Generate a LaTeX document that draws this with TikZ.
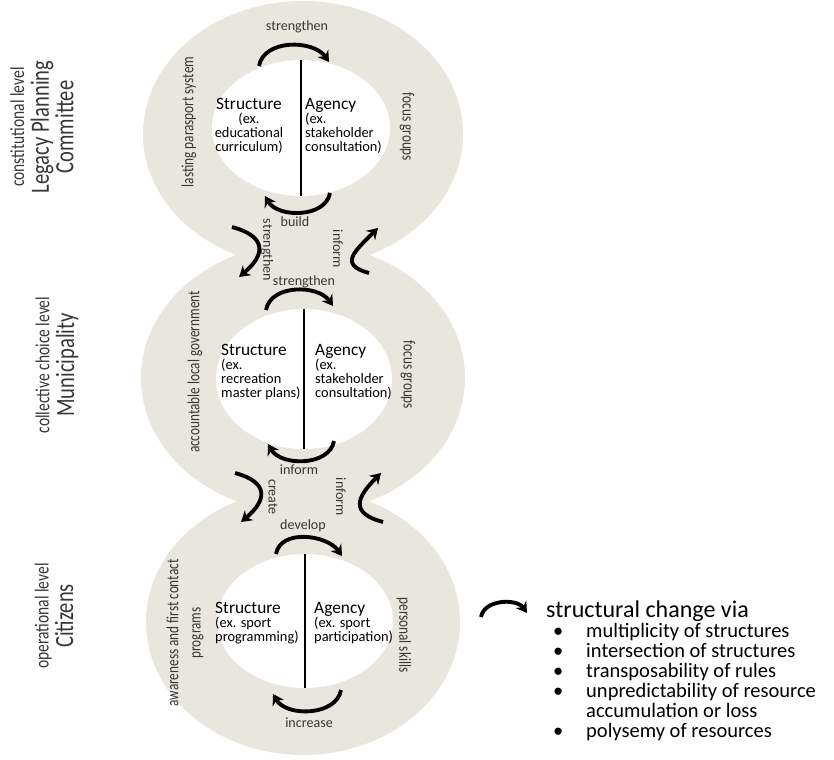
\documentclass[tikz,border=0pt]{standalone}
\usepackage{fontspec}
\setmainfont{Carlito}
\newfontfamily\narrowfont[FakeStretch=0.78]{Carlito}
\usetikzlibrary{arrows.meta,shapes.geometric}
\definecolor{ringgray}{RGB}{232,230,222}
\definecolor{labelgray}{RGB}{55,55,55}
\tikzset{
  ring/.style={fill=ringgray},
  core/.style={ellipse,fill=white,inner sep=0pt,minimum width=52.8mm},
  divider/.style={line width=2.4pt},
  flow/.style={line width=3.3pt,-{Stealth[length=9pt,width=11pt]}},
  cue/.style={font=\fontsize{12}{14}\selectfont,text=labelgray,inner sep=1pt},
  side/.style={font=\narrowfont\fontsize{14.5}{19}\selectfont,text=labelgray,align=center,inner sep=0pt},
  level/.style={font=\narrowfont\fontsize{22.5}{21}\selectfont,text=labelgray,align=center,inner sep=0pt},
  block/.style={font=\fontsize{12.3}{12}\selectfont,inner sep=0pt},
  listing/.style={font=\fontsize{17.5}{17}\selectfont,align=left,inner sep=0pt}
}
\newcommand{\headword}[1]{{\fontsize{14.8}{12}\selectfont #1}}
\newcommand{\levelname}[1]{{\fontsize{17}{21}\selectfont #1}}
\begin{document}
\begin{tikzpicture}[x=0.3mm,y=0.3mm]
\useasboundingbox (0,0) rectangle (834,-760);

% the three rings
\fill[ring] (303,-134) ellipse[x radius=160,y radius=133];
\fill[ring] (303,-378) ellipse[x radius=162,y radius=135];
\fill[ring] (303,-622) ellipse[x radius=157,y radius=133];

\node[core,minimum width=53.4mm,minimum height=40.8mm] (topcore) at (301,-128) {};
\node[core,minimum height=42mm] (midcore) at (304,-379) {};
\node[core,minimum height=40.2mm] (botcore) at (305,-621) {};

\draw[divider] (topcore.north) -- (topcore.south);
\draw[divider] (midcore.north) -- (midcore.south);
\draw[divider] (botcore.north) -- (botcore.south);

% structure and agency
\node[block,align=center] (topstruct) at (249,-126) {\headword{Structure}\\(ex.\\educational\\curriculum)};
\node[block,align=left,anchor=west] (topagency) at (305,-126) {\headword{Agency}\\(ex.\\stakeholder\\consultation)};
\node[block,align=left,anchor=west] (midstruct) at (221,-372) {\headword{Structure}\\(ex.\\recreation\\master plans)};
\node[block,align=left,anchor=west] (midagency) at (315,-372) {\headword{Agency}\\(ex.\\stakeholder\\consultation)};
\node[block,align=left,anchor=west] (botstruct) at (215,-623) {\headword{Structure}\\(ex. sport\\programming)};
\node[block,align=left,anchor=west] (botagency) at (314,-623) {\headword{Agency}\\(ex. sport\\participation)};

% cycle arrows
\draw[flow] (259,-66) to[out=80,in=125] (329,-62);
\draw[flow] (330,-193) to[out=-100,in=-60] (265,-196);
\draw[flow] (232,-227) to[out=-15,in=40,looseness=1.8] (239,-277);
\draw[flow] (369,-273) to[out=165,in=-135,looseness=1.8] (378,-228);
\draw[flow] (266,-310) to[out=80,in=125] (333,-306);
\draw[flow] (334,-441) to[out=-100,in=-60] (268,-444);
\draw[flow] (235,-473) to[out=-15,in=40,looseness=1.8] (241,-522);
\draw[flow] (383,-522) to[out=165,in=-135,looseness=1.8] (381,-473);
\draw[flow] (276,-554) to[out=80,in=125] (342,-556);
\draw[flow] (341,-690) to[out=-100,in=-60] (273,-694);

\node[cue] (topup) at (297,-27) {strengthen};
\node[cue] (topdown) at (295,-222) {build};
\node[cue,rotate=-90] (neckAl) at (267,-250) {strengthen};
\node[cue,rotate=-90] (neckAr) at (338,-249) {inform};
\node[cue] (midup) at (304,-282) {strengthen};
\node[cue] (middown) at (299,-470) {inform};
\node[cue,rotate=-90] (neckBl) at (273,-497) {create};
\node[cue,rotate=-90] (neckBr) at (341,-497) {inform};
\node[cue] (botup) at (303,-526) {develop};
\node[cue] (botdown) at (309,-723) {increase};

% ring side labels
\node[side,rotate=90] (topleft) at (189,-122) {lasting parasport system};
\node[side,rotate=-90] (topright) at (407,-127) {focus groups};
\node[side,rotate=90] (midleft) at (195,-372) {accountable local government};
\node[side,rotate=-90] (midright) at (408,-375) {focus groups};
\node[side,rotate=90] (botleft) at (185,-633) {awareness and first contact\\programs};
\node[side,rotate=-90] (botright) at (404,-635) {personal skills};

% levels
\node[level,rotate=90] (lvlconst) at (42,-127) {\levelname{constitutional level}\\Legacy Planning\\Committee};
\node[level,rotate=90] (lvlcoll) at (57,-365) {\levelname{collective choice level}\\Municipality};
\node[level,rotate=90] (lvloper) at (54,-616) {\levelname{operational level}\\Citizens};

% legend
\draw[flow] (481,-617) to[out=80,in=125] (527,-613);
\node[listing,anchor=west,font=\fontsize{20.5}{20}\selectfont] (legend) at (546,-611) {structural change via};
\node[listing,anchor=north west] (changes) at (553,-623) {%
\makebox[9.9mm][l]{\textbullet}multiplicity of structures\\
\makebox[9.9mm][l]{\textbullet}intersection of structures\\
\makebox[9.9mm][l]{\textbullet}transposability of rules\\
\makebox[9.9mm][l]{\textbullet}unpredictability of resource\\
\makebox[9.9mm][l]{}accumulation or loss\\
\makebox[9.9mm][l]{\textbullet}polysemy of resources};
\end{tikzpicture}
\end{document}
